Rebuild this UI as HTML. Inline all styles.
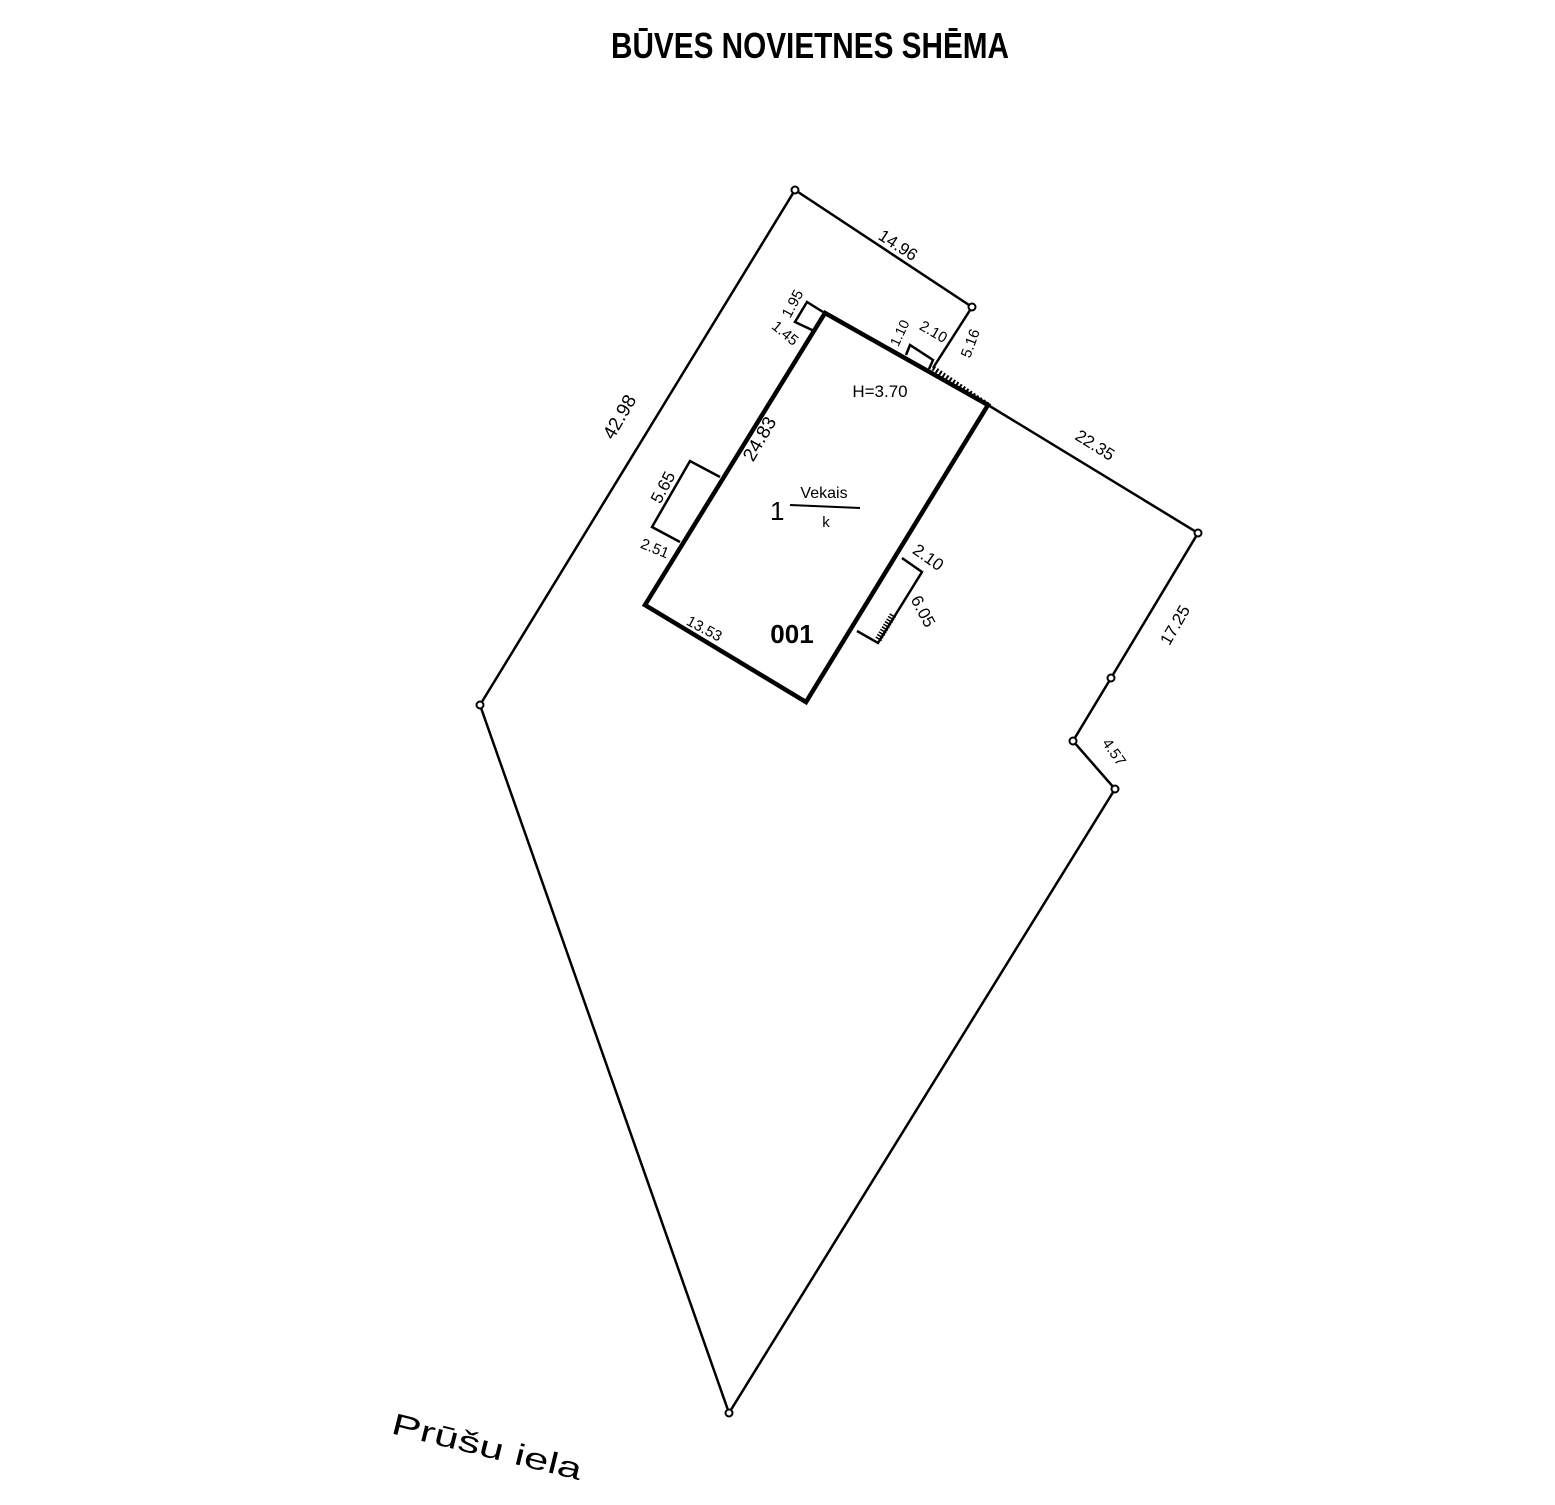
<!DOCTYPE html>
<html><head><meta charset="utf-8"><style>
html,body{margin:0;padding:0;background:#fff;}
svg{display:block;}
text{font-family:"Liberation Sans",sans-serif;fill:#000;}
</style></head><body>
<svg width="1555" height="1505" viewBox="0 0 1555 1505" xmlns="http://www.w3.org/2000/svg">
<text x="810" y="58" font-size="36" font-weight="bold" text-anchor="middle" textLength="398" lengthAdjust="spacingAndGlyphs">BŪVES NOVIETNES SHĒMA</text>
<g fill="none" stroke="#000" stroke-width="2.5">
<polyline points="933,368 972,307 795,190 480,705 729,1413 1115,789 1073,741 1111,678 1198,533 988,405"/>
</g>
<line x1="933" y1="368" x2="988" y2="405" stroke="#000" stroke-width="5" stroke-dasharray="2,2"/>
<g fill="#fff" stroke="#000" stroke-width="2">
<circle cx="795" cy="190" r="3.5"/><circle cx="972" cy="307" r="3.5"/><circle cx="1198" cy="533" r="3.5"/>
<circle cx="1111" cy="678" r="3.5"/><circle cx="1073" cy="741" r="3.5"/><circle cx="1115" cy="789" r="3.5"/>
<circle cx="729" cy="1413" r="3.5"/><circle cx="480" cy="705" r="3.5"/>
</g>
<polygon points="825,313 988,405 806,702 645,605" fill="none" stroke="#000" stroke-width="4.5"/>
<g fill="none" stroke="#000" stroke-width="2.5">
<polyline points="823,312 807,302 795,322 812,330"/>
<polyline points="906,355 910,345 933,360 929,369"/>
<polyline points="720,477 690,461 652,527 680,542"/>
<polyline points="902,558 922,572 878,643 857,631"/>
</g>
<line x1="893" y1="615" x2="878" y2="640" stroke="#000" stroke-width="7" stroke-dasharray="1.5,1.5"/>
<g font-size="17">
<text x="895" y="250" transform="rotate(33 895 250)" text-anchor="middle">14.96</text>
<text x="625" y="420" transform="rotate(-60 625 420)" text-anchor="middle" font-size="19">42.98</text>
<text x="1092" y="450" transform="rotate(32 1092 450)" text-anchor="middle">22.35</text>
<text x="1180" y="628" transform="rotate(-60 1180 628)" text-anchor="middle">17.25</text>
<text x="1110" y="755" transform="rotate(55 1110 755)" text-anchor="middle" font-size="15">4.57</text>
<text x="765" y="442" transform="rotate(-60 765 442)" text-anchor="middle" font-size="19">24.83</text>
<text x="668" y="490" transform="rotate(-62 668 490)" text-anchor="middle">5.65</text>
<text x="653" y="553" transform="rotate(22 653 553)" text-anchor="middle" font-size="15">2.51</text>
<text x="702" y="633" transform="rotate(28 702 633)" text-anchor="middle" font-size="15">13.53</text>
<text x="925" y="562" transform="rotate(35 925 562)" text-anchor="middle">2.10</text>
<text x="918" y="614" transform="rotate(62 918 614)" text-anchor="middle">6.05</text>
<text x="880" y="397" text-anchor="middle" font-size="17">H=3.70</text>
<text x="797" y="306" transform="rotate(-62 797 306)" text-anchor="middle" font-size="15">1.95</text>
<text x="782" y="337" transform="rotate(40 782 337)" text-anchor="middle" font-size="15">1.45</text>
<text x="904" y="335" transform="rotate(-65 904 335)" text-anchor="middle" font-size="14">1.10</text>
<text x="931" y="336" transform="rotate(30 931 336)" text-anchor="middle" font-size="15">2.10</text>
<text x="975" y="345" transform="rotate(-70 975 345)" text-anchor="middle" font-size="15">5.16</text>
</g>
<text x="770" y="520" font-size="26" font-family="Liberation Serif, serif">1</text>
<text x="824" y="498" font-size="16" text-anchor="middle">Vekais</text>
<line x1="790" y1="505" x2="860" y2="508" stroke="#000" stroke-width="2"/>
<text x="826" y="527" font-size="15" text-anchor="middle">k</text>
<text x="792" y="643" font-size="26" font-weight="bold" text-anchor="middle">001</text>
<text x="390" y="1433" font-size="30" font-family="Liberation Mono, monospace" transform="rotate(14 390 1433)" textLength="195" lengthAdjust="spacingAndGlyphs">Prūšu iela</text>
</svg>
</body></html>
